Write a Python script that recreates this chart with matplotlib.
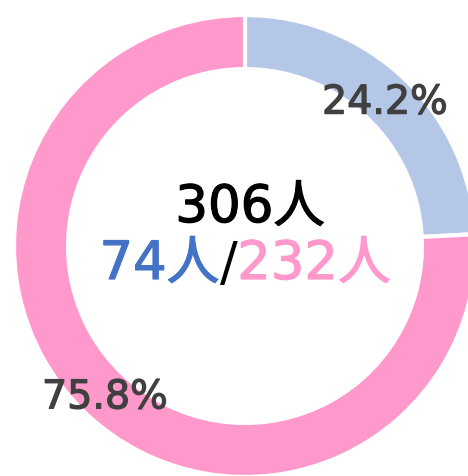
import matplotlib.pyplot as plt
import matplotlib.patheffects as pe

labels = ['男性', '女性']
counts = [74, 232]
colors = ['#b4c7e7', '#ff99cc']
text_colors = ['#4472c4', '#ff99cc']

plt.rcParams['font.family'] = ['DejaVu Sans', 'Noto Sans CJK JP']


def thicker(c):
    # the reference font is a bit heavier than DejaVu regular
    return [pe.Stroke(linewidth=0.9, foreground=c), pe.Normal()]


W, H = 468, 477
fig = plt.figure(figsize=(W / 100, H / 100), dpi=100)
ax = fig.add_axes([0, 0, 1, 1])

cx, cy, r = 245, H - 247, 231
wedges, _, pcts = ax.pie(counts, colors=colors, startangle=90, counterclock=False,
                         center=(cx, cy), radius=r, autopct='%.1f%%', pctdistance=0.88,
                         wedgeprops=dict(width=r * 0.234, edgecolor='white', linewidth=3),
                         textprops=dict(fontsize=28.5, color='#404040'))
for t in pcts:
    t.set_y(t.get_position()[1] - 4)
    t.set_path_effects(thicker('#404040'))
ax.set_xlim(0, W)
ax.set_ylim(0, H)
ax.set_aspect('equal')
ax.axis('off')

total = sum(counts)
ax.text(250, H - 209, f'{total}人', ha='center', va='center', fontsize=37, color='black',
        path_effects=thicker('black'))

# second line: blue count / pink count, laid out from measured widths
y2 = H - 265
fs2 = 38
parts = [(f'{counts[0]}人', text_colors[0]), ('/', 'black'), (f'{counts[1]}人', text_colors[1])]
fig.canvas.draw()
renderer = fig.canvas.get_renderer()
objs = []
for s, c in parts:
    t = ax.text(0, y2, s, ha='left', va='center', fontsize=fs2, color=c,
                path_effects=thicker(c) if c != 'black' else None)
    objs.append(t)
widths = [t.get_window_extent(renderer).width for t in objs]
x = 245 - sum(widths) / 2
for t, w in zip(objs, widths):
    t.set_x(x)
    x += w

fig.savefig('out.png', dpi=100)
